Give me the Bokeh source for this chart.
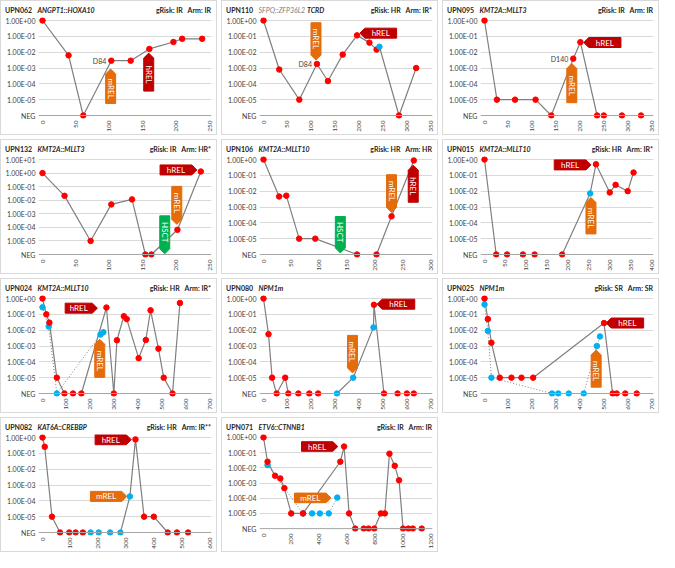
import math
from bokeh.plotting import figure
from bokeh.models import Range1d, FixedTicker, Label, Span, ColumnDataSource, Div
from bokeh.layouts import row, column
from bokeh.embed import file_html
from bokeh.resources import INLINE

NEG = 0.0  # "NEG" (negative) MRD measurement

# ---------------- data (days, MRD values) ----------------
upn062_day = [0, 39, 61, 103, 132, 160, 196, 209, 239]
upn062_mrd = [1.0, 6.3e-3, NEG, 2.9e-3, 2.9e-3, 1.6e-2, 4.4e-2, 7.0e-2, 7.0e-2]
upn062_kind = ["r"] * 9

upn110_day = [0, 33, 75, 112, 135, 166, 196, 222, 237, 243, 284, 320]
upn110_mrd = [1.0, 8e-4, 1e-5, 1.8e-3, 1.5e-4, 7e-3, 0.115, 4e-2, 1.45e-2, 2.2e-2, NEG, 1e-3]
upn110_kind = ["r", "r", "r", "r", "r", "r", "r", "r", "r", "b", "r", "r"]

upn095_day = [0, 26, 64, 107, 140, 186, 201, 236, 250, 288, 328]
upn095_mrd = [1.0, 1e-5, 1e-5, 1e-5, NEG, 3.9e-3, 4.3e-2, NEG, NEG, NEG, NEG]
upn095_kind = ["r"] * 11

upn132_day = [0, 33, 72, 103, 134, 154, 163, 202, 237]
upn132_mrd = [1.0, 2.1e-2, 1e-5, 4.9e-3, 1.15e-2, NEG, NEG, 6.6e-5, 1.3]
upn132_kind = ["r"] * 9

upn106_day = [0, 28, 41, 64, 93, 168, 203, 230, 270]
upn106_mrd = [1.0, 4.6e-3, 5.2e-3, 1e-5, 1e-5, NEG, NEG, 2.6e-4, 0.87]
upn106_kind = ["r"] * 9

upn015_day = [0, 28, 54, 92, 120, 186, 253, 267, 300, 314, 343, 357]
upn015_mrd = [1.0, NEG, NEG, NEG, NEG, NEG, 7.2e-3, 0.5, 8.3e-3, 2.5e-2, 1e-2, 0.15]
upn015_kind = ["r", "r", "r", "r", "r", "r", "b", "r", "r", "r", "r", "r"]

upn024_day = [0, 16, 29, 60, 92, 128, 163, 268, 299, 312, 341, 353, 403, 433, 453, 486, 508, 545, 576]
upn024_mrd = [1.0, 0.1, 3e-2, 1e-5, NEG, NEG, NEG, 0.27, NEG, 2.3e-3, 7.6e-2, 5e-2, 1.7e-4, 2.4e-3,
              0.18, 6.8e-4, 1e-5, NEG, 0.52]
upn024_kind = ["r"] * 19
upn024_day2 = [0, 26, 60, 243, 255]
upn024_mrd2 = [0.28, 1.7e-2, NEG, 5.3e-3, 7.4e-3]

upn080_day = [0, 21, 36, 55, 91, 104, 146, 192, 229, 308, 376, 461, 463, 505, 562, 601, 630]
upn080_mrd = [1.0, 5.6e-3, 1e-5, NEG, 1e-5, NEG, NEG, NEG, NEG, NEG, 1e-5, 1.5e-2, 0.4, NEG, NEG, NEG, NEG]
upn080_kind = ["r"] * 9 + ["b", "b", "b"] + ["r"] * 5

upn025_day = [0, 14, 29, 64, 113, 155, 204, 501, 537, 554, 590, 638]
upn025_mrd = [1.0, 5e-2, 1.6e-3, 1e-5, 1e-5, 1e-5, 1e-5, 2.8e-2, NEG, NEG, NEG, NEG]
upn025_kind = ["r"] * 12
upn025_day2 = [0, 14, 29, 283, 309, 353, 416, 471, 484]
upn025_mrd2 = [0.42, 9e-3, 1e-5, NEG, NEG, NEG, NEG, 1e-3, 4e-3]

upn082_day = [0, 8, 34, 63, 96, 119, 145, 173, 202, 243, 280, 314, 334, 365, 400, 450, 483, 523]
upn082_mrd = [1.0, 0.26, 1e-5, NEG, NEG, NEG, NEG, NEG, NEG, NEG, NEG, 1.9e-4, 0.76, 1e-5, 1e-5, NEG, NEG, NEG]
upn082_kind = ["r"] * 7 + ["b"] * 5 + ["r"] * 6

upn071_day = [0, 29, 83, 121, 150, 199, 284, 552, 579, 615, 659, 720, 755, 796, 843, 872, 905, 943, 974,
              1003, 1041, 1073, 1137]
upn071_mrd = [1.0, 2.5e-2, 3e-3, 2e-3, 4.6e-4, 1e-5, 1e-5, 2.5e-2, 0.25, 1e-5, NEG, NEG, NEG, NEG, 1e-5,
              1e-5, 8.5e-2, 1.35e-2, 1.5e-3, NEG, NEG, NEG, NEG]
upn071_kind = ["r"] * 23
upn071_day2 = [29, 284, 349, 405, 469, 530]
upn071_mrd2 = [1.5e-2, 1e-5, 1e-5, 1e-5, 1e-5, 1.1e-4]

# event markers: (label, direction, position, tail, tip); vertical -> position is day, tail/tip in decades
# horizontal -> position in decades, tail/tip in days
upn062_events = [("mREL", "up", 102, -5.24, -3.06), ("hREL", "up", 159, -4.46, -2.06)]
upn110_events = [("mREL", "down", 110, -0.14, -2.5), ("hREL", "left", -0.8, 279, 202)]
upn095_events = [("hREL", "left", -1.39, 286, 208), ("mREL", "up", 183, -5.19, -2.72)]
upn132_events = [("hREL", "right", 0.23, 176, 231), ("mREL", "down", 201, -0.98, -3.78),
                 ("HSCT", "down", 183, -3.15, -5.95)]
upn106_events = [("HSCT", "down", 138, -3.6, -5.9), ("mREL", "down", 230, -0.96, -3.34),
                 ("hREL", "up", 269, -2.7, -0.36)]
upn015_events = [("hREL", "right", -0.34, 167, 255), ("mREL", "up", 255, -4.7, -2.4)]
upn024_events = [("hREL", "right", -0.61, 95, 230), ("mREL", "up", 240, -4.98, -2.58)]
upn080_events = [("hREL", "left", -0.36, 634, 476), ("mREL", "down", 373, -2.33, -4.7)]
upn025_events = [("hREL", "left", -1.55, 667, 510), ("mREL", "up", 468, -5.6, -3.25)]
upn082_events = [("hREL", "right", -0.14, 189, 319), ("mREL", "right", -3.72, 172, 303)]
upn071_events = [("hREL", "right", -0.6, 273, 534), ("mREL", "right", -3.98, 223, 485)]

# ---------------- styling ----------------
FONT = "Lato"
W, H = 215, 133
HEAD = 12
FIG_H = H - HEAD
BL, BR, BT, BB = 37, 5, 4, 16
FW, FH = W - BL - BR, FIG_H - BT - BB
PADL, PADR, PADY = 4, 2, 3
RED, BLUE, GREY = "#FF0000", "#00B0F0", "#7F7F7F"
EV_COL = {"mREL": "#E46C0A", "hREL": "#C00000", "HSCT": "#00B050"}


def lg(v):
    return math.log10(v) if v > 0 else -6.0


def ylab(k):
    if k == -6:
        return "NEG"
    if k >= 0:
        return "1.00E+%02d" % k
    return "1.00E-%02d" % (-k)


def add_event(p, name, direction, pos, tail, tip, dx, dy):
    th, hd = 10, 5
    col = EV_COL[name]
    if direction in ("up", "down"):
        hw = th / 2 * dx
        s = 1 if direction == "up" else -1
        neck = tip - s * hd * dy
        xs = [pos - hw, pos + hw, pos + hw, pos, pos - hw]
        ys = [tail, tail, neck, tip, neck]
        cx, cy, ang = pos, (tail + neck) / 2, -math.pi / 2
    else:
        hh = th / 2 * dy
        s = 1 if direction == "right" else -1
        neck = tip - s * hd * dx
        xs = [tail, neck, tip, neck, tail]
        ys = [pos - hh, pos - hh, pos, pos + hh, pos + hh]
        cx, cy, ang = (tail + neck) / 2, pos, 0
    p.patch(xs, ys, fill_color=col, line_color=col, line_width=1)
    p.add_layout(Label(x=cx, y=cy, text=name, angle=ang, text_align="center", text_baseline="middle",
                       text_color="white", text_font=FONT, text_font_size="8px"))


def header(upn, genes, risk):
    parts = ['<b style="color:#262626">%s</b>' % upn]
    for txt, style, col in genes:
        w = "bold" if "bold" in style else "normal"
        parts.append('<span style="font-style:italic;font-weight:%s;color:%s">%s</span>' % (w, col, txt))
    left = '&nbsp;&nbsp;&nbsp;'.join(parts[:2]) + ''.join('&nbsp;' + x for x in parts[2:])
    right = '<b style="color:#262626">%s</b>' % risk.replace(" ", "&nbsp;") if risk else ""
    html = ('<div style="display:flex;justify-content:space-between;width:%dpx;font-family:Lato;'
            'font-size:7px;line-height:%dpx;white-space:nowrap;">'
            '<span style="padding-left:4px">%s</span><span style="padding-right:5px">%s</span></div>'
            % (W, HEAD, left, right))
    return Div(text=html, width=W, height=HEAD, margin=(0, 0, 0, 0))


def panel(upn, genes, risk, xmax, step, ytop, day, mrd, kind, events, day2=None, mrd2=None, notes=()):
    dx = xmax / (FW - PADL - PADR)
    dy = (ytop + 6) / (FH - 2 * PADY)
    p = figure(width=W, height=FIG_H, output_backend="svg", toolbar_location=None,
               x_range=Range1d(-PADL * dx, xmax + PADR * dx),
               y_range=Range1d(-6 - PADY * dy, ytop + PADY * dy),
               min_border_left=BL, min_border_right=BR, min_border_top=BT, min_border_bottom=BB)
    p.outline_line_color = None
    p.xgrid.visible = False
    p.ygrid.ticker = FixedTicker(ticks=list(range(-5, ytop + 1)))
    p.ygrid.grid_line_color = "#D9D9D9"
    p.yaxis.ticker = FixedTicker(ticks=list(range(-6, ytop + 1)))
    p.yaxis.major_label_overrides = {k: ylab(k) for k in range(-6, ytop + 1)}
    p.xaxis.ticker = FixedTicker(ticks=list(range(0, xmax + 1, step)))
    p.xaxis.major_label_orientation = math.pi / 2
    for ax in (p.xaxis[0], p.yaxis[0]):
        ax.axis_line_color = None
        ax.major_tick_line_color = None
        ax.minor_tick_line_color = None
        ax.major_tick_out = 0
        ax.major_tick_in = 0
        ax.minor_tick_out = 0
        ax.minor_tick_in = 0
        ax.major_label_text_font = FONT
        ax.major_label_text_color = "#404040"
    p.yaxis.major_label_text_font_size = "7px"
    p.yaxis.major_label_standoff = 3
    p.xaxis.major_label_text_font_size = "6.5px"
    p.xaxis.major_label_standoff = 2
    p.add_layout(Span(location=-6, dimension="width", line_color="#A6A6A6", line_width=1))

    ys = [lg(v) for v in mrd]
    p.line(day, ys, line_color=GREY, line_width=1.2)
    if day2 is not None:
        ys2 = [lg(v) for v in mrd2]
        p.line(day2, ys2, line_color=GREY, line_width=1, line_dash="1 2")
    for ev in events:
        add_event(p, *ev, dx, dy)
    if day2 is not None:
        p.scatter(day2, ys2, size=5.5, fill_color=BLUE, line_color=BLUE)
    cols = [RED if k == "r" else BLUE for k in kind]
    src = ColumnDataSource(dict(x=day, y=ys, c=cols))
    p.scatter("x", "y", source=src, size=5.5, fill_color="c", line_color="c")
    for txt, nx, nv in notes:
        p.add_layout(Label(x=nx, y=lg(nv), text=txt, text_align="right", text_baseline="middle",
                           x_offset=-5, text_font=FONT, text_font_size="7px", text_color="#404040"))

    return column(header(upn, genes, risk), p, spacing=0,
                  styles={"border": "1px solid #D9D9D9", "background-color": "white"})


BI = "bold italic"
p1 = panel("UPN062", [("ANGPT1::HOXA10", BI, "#262626")], "gRisk: IR   Arm: IR", 250, 50, 0,
           upn062_day, upn062_mrd, upn062_kind, upn062_events, notes=[("D84", 103, 2.9e-3)])
p2 = panel("UPN110", [("SFPQ::ZFP36L2", "italic", "#808080"), ("TCRD", BI, "#262626")],
           "gRisk: HR   Arm: IR*", 350, 50, 0,
           upn110_day, upn110_mrd, upn110_kind, upn110_events, notes=[("D84", 112, 1.8e-3)])
p3 = panel("UPN095", [("KMT2A::MLLT3", BI, "#262626")], "gRisk: IR   Arm: IR", 350, 50, 0,
           upn095_day, upn095_mrd, upn095_kind, upn095_events, notes=[("D140", 186, 3.9e-3)])
p4 = panel("UPN132", [("KMT2A::MLLT3", BI, "#262626")], "gRisk: IR   Arm: HR*", 250, 50, 1,
           upn132_day, upn132_mrd, upn132_kind, upn132_events)
p5 = panel("UPN106", [("KMT2A::MLLT10", BI, "#262626")], "gRisk: HR   Arm: HR", 300, 50, 0,
           upn106_day, upn106_mrd, upn106_kind, upn106_events)
p6 = panel("UPN015", [("KMT2A::MLLT10", BI, "#262626")], "gRisk: HR   Arm: IR*", 400, 50, 0,
           upn015_day, upn015_mrd, upn015_kind, upn015_events)
p7 = panel("UPN024", [("KMT2A::MLLT10", BI, "#262626")], "gRisk: HR   Arm: IR*", 700, 100, 0,
           upn024_day, upn024_mrd, upn024_kind, upn024_events, upn024_day2, upn024_mrd2)
p8 = panel("UPN080", [("NPM1m", BI, "#262626")], "", 700, 100, 0,
           upn080_day, upn080_mrd, upn080_kind, upn080_events)
p9 = panel("UPN025", [("NPM1m", BI, "#262626")], "gRisk: SR   Arm: SR", 700, 100, 0,
           upn025_day, upn025_mrd, upn025_kind, upn025_events, upn025_day2, upn025_mrd2)
p10 = panel("UPN082", [("KAT6A::CREBBP", BI, "#262626")], "gRisk: HR   Arm: IR**", 600, 100, 0,
            upn082_day, upn082_mrd, upn082_kind, upn082_events)
p11 = panel("UPN071", [("ETV6::CTNNB1", BI, "#262626")], "gRisk: IR   Arm: IR", 1200, 200, 0,
            upn071_day, upn071_mrd, upn071_kind, upn071_events, upn071_day2, upn071_mrd2)

layout = column(row(p1, p2, p3, spacing=4), row(p4, p5, p6, spacing=4),
                row(p7, p8, p9, spacing=4), row(p10, p11, spacing=4), spacing=4)

open("out.html", "w").write(file_html(layout, INLINE))
